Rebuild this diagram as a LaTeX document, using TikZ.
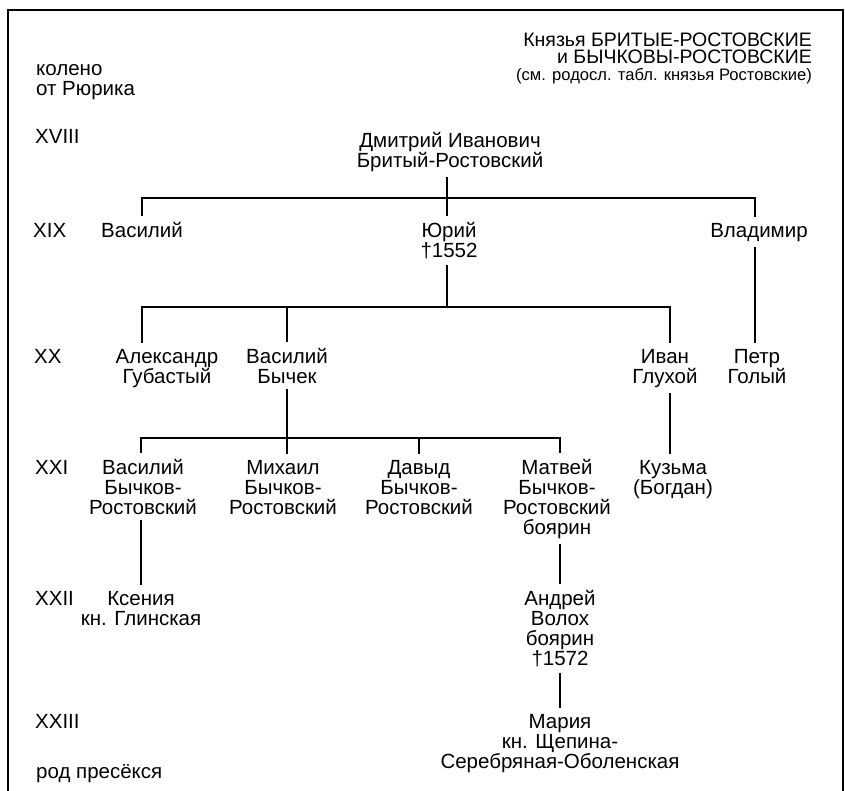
\documentclass[tikz,border=0pt]{standalone}
\usepackage{fontspec}
\setmainfont{Liberation Sans}
\usetikzlibrary{positioning}

\begin{document}
\begin{tikzpicture}[x=1pt, y=-1pt,
  person/.style={align=center, anchor=base, inner xsep=0pt, inner ysep=6pt,
    font=\fontsize{20.5}{20}\selectfont},
  gen/.style={anchor=base west, inner sep=0pt, font=\fontsize{20.5}{20}\selectfont},
  line/.style={line width=1.1pt}]

  % --- 0. рамка ---
  \useasboundingbox (0,0) rectangle (845,790);
  \draw[line width=1.8pt] (8,800) -- (8,10) -- (843,10) -- (843,800);

  % --- 1. заголовок (base = последняя строка) ---
  \node[anchor=base east, align=right, inner sep=0pt,
    font={\fontsize{19.5}{17}\selectfont\lineskiplimit=-20pt}] (title) at (812,80)
    {Князья БРИТЫЕ-РОСТОВСКИЕ\\и БЫЧКОВЫ-РОСТОВСКИЕ\\
     {\fontsize{16.6}{16}\selectfont (см. родосл. табл. князья Ростовские)}};

  % --- 2. колена ---
  \node[gen, align=left] (koleno) at (36,95) {колено\\от Рюрика};
  \node[gen] (g18) at (35,143) {XVIII};
  \node[gen] (g19) at (33,237) {XIX};
  \node[gen] (g20) at (34,363) {XX};
  \node[gen] (g21) at (35,474) {XXI};
  \node[gen] (g22) at (35,605) {XXII};
  \node[gen] (g23) at (35,728) {XXIII};
  \node[gen] (rod) at (36,778) {род пресёкся};

  % --- 3. лица ---
  \node[person] (dmitry) at (450,167) {Дмитрий Иванович\\Бритый-Ростовский};

  \node[person] (vasily) at (142,237) {Василий};
  \node[person] (yuri) at (449,257) {Юрий\\†1552};
  \node[person] (vladimir) at (759,237) {Владимир};

  \node[person] (alexandr) at (167,383) {Александр\\Губастый};
  \node[person] (bychek) at (287,383) {Василий\\Бычек};
  \node[person] (ivan) at (665,383) {Иван\\Глухой};
  \node[person] (petr) at (757,383) {Петр\\Голый};

  \node[person] (vasilybr) at (143,514) {Василий\\Бычков-\\Ростовский};
  \node[person] (mikhail) at (283,514) {Михаил\\Бычков-\\Ростовский};
  \node[person] (davyd) at (419,514) {Давыд\\Бычков-\\Ростовский};
  \node[person] (matvey) at (557,534) {Матвей\\Бычков-\\Ростовский\\боярин};
  \node[person] (kuzma) at (673,494) {Кузьма\\(Богдан)};

  \node[person] (ksenia) at (141,625) {Ксения\\кн. Глинская};
  \node[person] (andrey) at (560,665) {Андрей\\Волох\\боярин\\†1572};

  \node[person] (maria) at (560,768) {Мария\\кн. Щепина-\\Серебряная-Оболенская};

  % --- 4. шины ---
  \coordinate (b1) at (447,198);
  \coordinate (b1w) at (142,198);
  \coordinate (b1e) at (755,198);
  \coordinate (b2) at (447,307);
  \coordinate (b2w) at (142,307);
  \coordinate (b2e) at (670,307);
  \coordinate (b3w) at (141,438);
  \coordinate (b3e) at (560,438);

  % --- 5. связи ---
  \draw[line] (b1 |- dmitry.south) -- (b1);
  \draw[line] (b1w |- vasily.north) -- (b1w) -- (b1e) -- (b1e |- vladimir.north);
  \draw[line] (b1) -- (b1 |- yuri.north);
  \draw[line] (b1e |- vladimir.south) -- (b1e |- petr.north);

  \draw[line] (b2 |- yuri.south) -- (b2);
  \draw[line] (b2w |- alexandr.north) -- (b2w) -- (b2e) -- (b2e |- ivan.north);
  \draw[line] (bychek.north) -- (bychek.north |- b2);
  \draw[line] (b2e |- ivan.south) -- (b2e |- kuzma.north);

  \draw[line] (bychek.south) -- (bychek.south |- mikhail.north);
  \draw[line] (b3w |- vasilybr.north) -- (b3w) -- (b3e) -- (b3e |- matvey.north);
  \draw[line] (davyd.north) -- (davyd.north |- b3w);

  \draw[line] (b3w |- vasilybr.south) -- (b3w |- ksenia.north);
  \draw[line] (b3e |- matvey.south) -- (b3e |- andrey.north);
  \draw[line] (andrey.south) -- (maria.north);

\end{tikzpicture}
\end{document}
